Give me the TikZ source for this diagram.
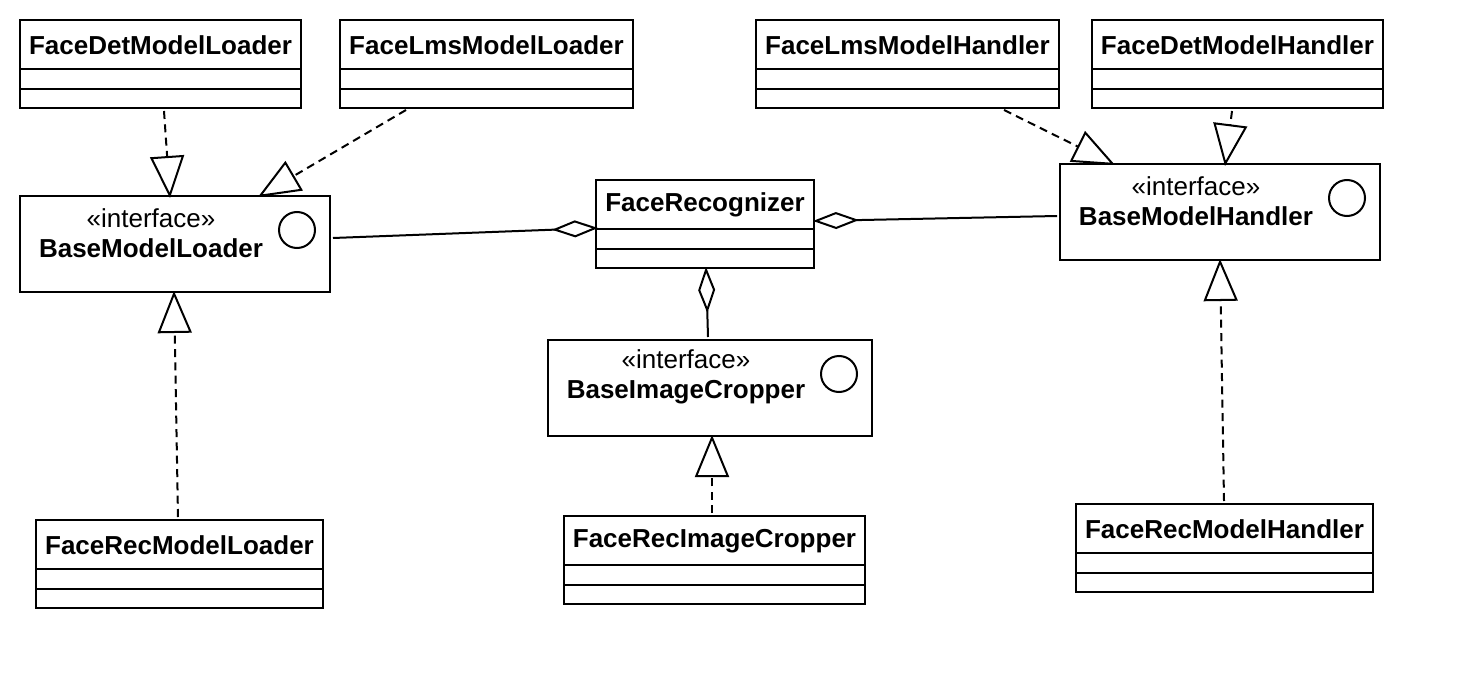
\documentclass[tikz,border=0pt]{standalone}
\usepackage{fontspec}
\setmainfont{Liberation Sans}
\usepackage{tikz}
\usetikzlibrary{arrows.meta}

\begin{document}
\begin{tikzpicture}[
    x=0.75pt, y=-0.75pt,
    umlclass/.style={rectangle, draw=black, line width=1.5pt, minimum height=66pt, inner sep=0pt},
    iface/.style={rectangle, draw=black, line width=1.5pt, minimum height=72pt, inner sep=0pt},
    cname/.style={font=\fontsize{19.5pt}{22.5pt}\selectfont\bfseries, inner sep=0pt},
    stereo/.style={align=center, font=\fontsize{19.5pt}{22.5pt}\selectfont, inner sep=0pt},
    icon/.style={circle, draw=black, line width=1.5pt, minimum size=27pt, inner sep=0pt},
    realize/.style={-{Triangle[open, length=31.5pt, width=25.5pt]}, line width=1.5pt, dash pattern=on 6pt off 4pt},
    aggr/.style={-{Diamond[open, length=34.5pt, width=12.75pt]}, line width=1.5pt}
]
\useasboundingbox (0,0) rectangle (1462,688);

% plain classes
\node[umlclass, minimum width=210.75pt] (detLoader) at (160.5,64) {};
\node[umlclass, minimum width=219.75pt] (lmsLoader) at (486.5,64) {};
\node[umlclass, minimum width=227.25pt] (lmsHandler) at (907.5,64) {};
\node[umlclass, minimum width=218.25pt] (detHandler) at (1237.5,64) {};
\node[umlclass, minimum width=163.5pt] (recognizer) at (705,224) {};
\node[umlclass, minimum width=215.25pt] (recLoader) at (179.5,564) {};
\node[umlclass, minimum width=225.75pt] (recCropper) at (714.5,560) {};
\node[umlclass, minimum width=222.75pt] (recHandler) at (1224.5,548) {};

\foreach \c/\t in {detLoader/FaceDetModelLoader, lmsLoader/FaceLmsModelLoader,
    lmsHandler/FaceLmsModelHandler, detHandler/FaceDetModelHandler,
    recognizer/FaceRecognizer, recLoader/FaceRecModelLoader,
    recCropper/FaceRecImageCropper, recHandler/FaceRecModelHandler} {
  \node[cname] (\c Name) at ([shift={(0,26)}]\c.north) {\t};
  \draw[line width=1.5pt] ([shift={(0,50)}]\c.north west) -- ([shift={(0,50)}]\c.north east);
  \draw[line width=1.5pt] ([shift={(0,70)}]\c.north west) -- ([shift={(0,70)}]\c.north east);
}

% interfaces
\node[iface, minimum width=232.5pt] (baseLoader) at (175,244) {};
\node[iface, minimum width=240pt] (baseHandler) at (1220,212) {};
\node[iface, minimum width=243pt] (baseCropper) at (710,388) {};

\foreach \c/\t in {baseLoader/BaseModelLoader, baseHandler/BaseModelHandler,
    baseCropper/BaseImageCropper} {
  \node[stereo] (\c Name) at ([shift={(-24,38)}]\c.north) {«interface»\\\textbf{\t}};
  \node[icon] (\c Icon) at ([shift={(-34,35)}]\c.north east) {};
}

% realizations
\draw[realize] ([shift={(3.5,2)}]detLoader.south) -- ([shift={(-5,3)}]baseLoader.north);
\draw[realize] ([shift={(-80.5,1)}]lmsLoader.south) -- ([shift={(83,2)}]baseLoader.north);
\draw[realize] ([shift={(96.5,1)}]lmsHandler.south) -- ([shift={(-105,2)}]baseHandler.north);
\draw[realize] ([shift={(-5.5,2)}]detHandler.south) -- ([shift={(5,3)}]baseHandler.north);
\draw[realize] ([shift={(-1.5,-2)}]recLoader.north) -- ([shift={(-1,-2)}]baseLoader.south);
\draw[realize] ([shift={(-2.5,-2)}]recCropper.north) -- ([shift={(2,-2)}]baseCropper.south);
\draw[realize] ([shift={(-0.5,-2)}]recHandler.north) -- ([shift={(0,-2)}]baseHandler.south);

% aggregations
\draw[aggr] ([shift={(2,-6)}]baseLoader.east) -- ([shift={(3,4)}]recognizer.west);
\draw[aggr] ([shift={(-2,4)}]baseHandler.west) -- ([shift={(-2,-3)}]recognizer.east);
\draw[aggr] ([shift={(-2,-2)}]baseCropper.north) -- ([shift={(1,-2)}]recognizer.south);
\end{tikzpicture}
\end{document}
